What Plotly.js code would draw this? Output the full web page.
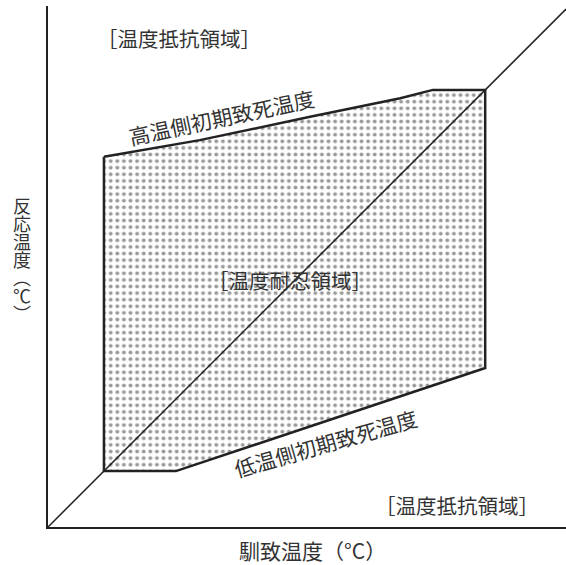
<!DOCTYPE html>
<html>
<head>
<meta charset="utf-8">
<script src="https://cdn.plot.ly/plotly-3.0.1.min.js"></script>
<style>html,body{margin:0;padding:0;background:#fff;}#chart{width:566px;height:565px;}</style>
</head>
<body>
<div id="chart"></div>
<script>
// Tolerance zone polygon (acclimation temp x, reaction temp y)
const zoneX = [10.8, 29.3, 50.6, 68.0, 74.3, 84.4, 84.4, 24.7, 10.8, 10.8];
const zoneY = [71.5, 74.7, 79.2, 82.8, 84.4, 84.4, 30.7, 10.8, 10.8, 71.5];
// Identity line
const diagX = [0, 100];
const diagY = [0, 100];

const labelTexts = ["［温度抵抗領域］", "［温度抵抗領域］", "［温度耐忍領域］", "高温側初期致死温度", "低温側初期致死温度"];
const xTitle = "馴致温度（°C）";
const yTitle = "反応温度（℃）";

const FONT = "'Noto Sans CJK JP', 'Noto Sans', sans-serif";

const traces = [
  {
    x: zoneX, y: zoneY, mode: "lines", fill: "toself",
    fillcolor: "rgba(0,0,0,0)",
    fillpattern: {shape: ".", size: 6.6, solidity: 0.28, fgcolor: "#9a9a9a", bgcolor: "#ffffff"},
    line: {color: "#222", width: 2.5},
    hoverinfo: "skip", showlegend: false
  },
  {
    x: diagX, y: diagY, mode: "lines",
    line: {color: "#222", width: 1.5},
    hoverinfo: "skip", showlegend: false
  }
];

const ann = (text, x, y, size, angle, ref) => ({
  text: text, x: x, y: y, xref: ref || "x", yref: ref || "y", showarrow: false,
  font: {family: FONT, size: size, color: "#333"}, textangle: angle || 0,
  xanchor: "center", yanchor: "middle", borderpad: 0
});

const annotations = [
  ann(labelTexts[0], 25.3, 94.4, 20.5),
  ann(labelTexts[1], 79.0, 4.25, 20.5),
  ann(labelTexts[2], 46.7, 47.7, 20.5),
  ann(labelTexts[3], 33.5, 79.2, 21, -12),
  ann(labelTexts[4], 53.6, 16.3, 21, -16),
  ann(xTitle, 0.51, -0.044, 21, 0, "paper"),
  ann(yTitle, -0.05, 0.51, 18, 0, "paper")
];

const layout = {
  width: 566, height: 565,
  margin: {l: 48, r: 0, t: 6, b: 38},
  paper_bgcolor: "#fff", plot_bgcolor: "#fff",
  showlegend: false,
  xaxis: {range: [0, 100], showline: true, linecolor: "#222", linewidth: 2,
          showgrid: false, zeroline: false, showticklabels: false, ticks: ""},
  yaxis: {range: [0, 100.6], showline: true, linecolor: "#222", linewidth: 2,
          showgrid: false, zeroline: false, showticklabels: false, ticks: ""},
  annotations: annotations
};

Plotly.newPlot("chart", traces, layout, {displayModeBar: false, staticPlot: true}).then(gd => {
  // Set the y-axis title in vertical (tategaki) writing, centred where the reference puts it
  const targetX = 22, targetY = 260;
  const root = gd.getBoundingClientRect();
  gd.querySelectorAll("text.annotation-text").forEach(el => {
    if (el.textContent !== yTitle) return;
    el.style.writingMode = "vertical-rl";
    el.style.textOrientation = "mixed";
    const r = el.getBoundingClientRect();
    const cx = r.left + r.width / 2 - root.left;
    const cy = r.top + r.height / 2 - root.top;
    const prev = el.getAttribute("transform") || "";
    el.setAttribute("transform", `translate(${targetX - cx},${targetY - cy}) ${prev}`);
  });
});
</script>
</body>
</html>
